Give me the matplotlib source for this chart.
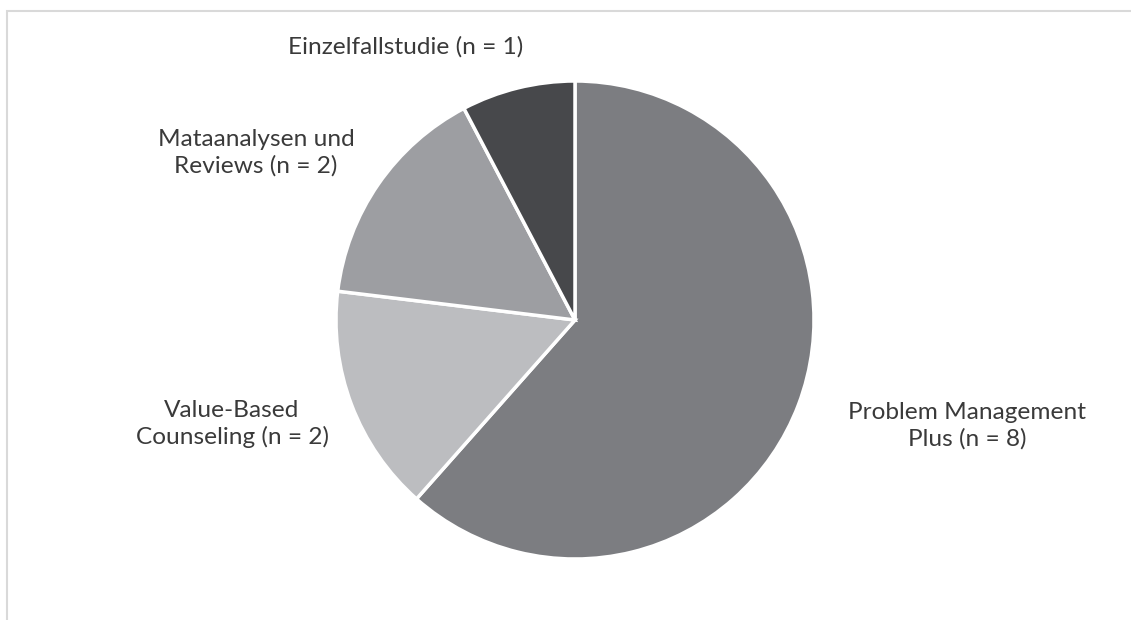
import matplotlib.pyplot as plt
from matplotlib.patches import Rectangle

# Data
labels = ["Problem Management\nPlus (n = 8)", "Value-Based\nCounseling (n = 2)",
          "Mataanalysen und\nReviews (n = 2)", "Einzelfallstudie (n = 1)"]
counts = [8, 2, 2, 1]
colors = ["#7c7d81", "#bcbdc0", "#9d9ea2", "#47484b"]

# label anchor points in pixels (x, y from top)
label_pos = [(967, 426), (232, 424), (256, 153), (406, 47)]

W, H = 1131, 620
fig = plt.figure(figsize=(W / 100, H / 100), dpi=100)
ax = fig.add_axes([0, 0, 1, 1])
ax.set_xlim(0, W)
ax.set_ylim(0, H)
ax.set_aspect("equal")
ax.axis("off")

# Pie, clockwise from 12 o'clock
ax.pie(counts, colors=colors, startangle=90, counterclock=False,
       center=(575, H - 320), radius=239,
       wedgeprops=dict(edgecolor="white", linewidth=2.5))
ax.set_xlim(0, W)
ax.set_ylim(0, H)

for text, (x, y) in zip(labels, label_pos):
    ax.text(x, H - y, text, ha="center", va="center", fontsize=17.6,
            family="Lato", color="#3a3a3a", linespacing=1.32)

# Light frame (cut off at right and bottom like the original)
fig.patches.append(Rectangle((7 / W, -0.1), 1.2, (H - 11) / H + 0.1,
                             transform=fig.transFigure, fill=False,
                             edgecolor="#d9d9d9", linewidth=1.5))

fig.savefig("out.png", dpi=100)
